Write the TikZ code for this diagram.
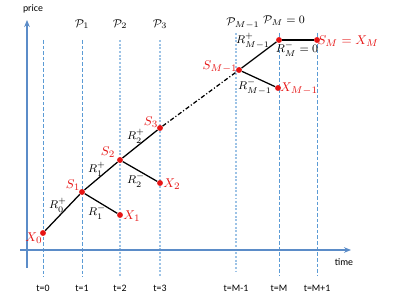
\documentclass[tikz,border=0pt]{standalone}
\usepackage{fontspec}
\setsansfont{Carlito}
\usepackage{tikz}
\usetikzlibrary{arrows.meta,positioning}
\definecolor{axisblue}{RGB}{91,140,200}
\definecolor{gridblue}{RGB}{91,155,213}
\definecolor{gridlight}{RGB}{157,195,230}
\definecolor{ptred}{RGB}{230,20,20}
\begin{document}
\begin{tikzpicture}[x=0.025cm, y=-0.025cm,
    axis/.style={line width=1.1pt, axisblue, -{Stealth[length=5pt,width=4pt]}},
    tline/.style={gridblue, line width=0.5pt, dash pattern=on 2.5pt off 1.5pt},
    tlinethick/.style={gridlight, line width=1.4pt, dash pattern=on 1.4pt off 1.2pt},
    tlab/.style={font=\sffamily\fontsize{7}{8}\selectfont, inner sep=1pt},
    plab/.style={font=\fontsize{8}{9}\selectfont, inner sep=1pt},
    dot/.style={circle, fill=ptred, inner sep=0pt, minimum size=4.2pt},
    path/.style={black, line width=0.9pt},
    rlab/.style={font=\fontsize{8}{9}\selectfont, inner sep=0pt},
    slab/.style={ptred, font=\fontsize{9.5}{10}\selectfont, inner sep=0pt}
]
    \useasboundingbox (0,0) rectangle (400,300);
    % time grid
    \node[tlab] (t0) at (43,288) {t=0};
    \node[tlab] (t1) at (82,288) {t=1};
    \node[tlab] (t2) at (120,288) {t=2};
    \node[tlab] (t3) at (160,288) {t=3};
    \node[tlab] (tm1) at (236,288) {t=M-1};
    \node[tlab] (tm) at (279,288) {t=M};
    \node[tlab] (tp1) at (317,288) {t=M+1};
    \coordinate (t0top) at (43,40);
    \coordinate (t1top) at (82,40);
    \coordinate (t2top) at (120,40);
    \coordinate (t3top) at (160,40);
    \coordinate (tm1top) at (236,33);
    \coordinate (tmtop) at (279,33);
    \coordinate (tp1top) at (317,33);
    \coordinate (t0bot) at (43,277);
    \coordinate (t1bot) at (82,277);
    \coordinate (t2bot) at (120,277);
    \coordinate (t3bot) at (160,277);
    \coordinate (tm1bot) at (236,272);
    \coordinate (tmbot) at (279,275);
    \coordinate (tp1bot) at (317,275);
    \draw[tline] (t0top) -- (t0bot);
    \draw[tline] (t1top) -- (t1bot);
    \draw[tlinethick] (t2top) -- (t2bot);
    \draw[tlinethick] (t3top) -- (t3bot);
    \draw[tlinethick] (tm1top) -- (tm1bot);
    \draw[tline] (tmtop) -- (tmbot);
    \draw[tline] (tp1top) -- (tp1bot);
    % axes
    \coordinate (ybot) at (27,268);
    \coordinate (ytop) at (27,20);
    \coordinate (xleft) at (20,250);
    \coordinate (xright) at (351,250);
    \draw[axis] (ybot) -- (ytop);
    \draw[axis] (xleft) -- (xright);
    \node[tlab] (price) at (33,9) {price};
    \node[tlab] (time) at (344,262) {time};
    % P labels
    \node[plab] (p1) at (82,24) {$\mathcal{P}_1$};
    \node[plab] (p2) at (120,24) {$\mathcal{P}_2$};
    \node[plab] (p3) at (160,24) {$\mathcal{P}_3$};
    \node[plab] (pm1) at (243,23) {$\mathcal{P}_{M-1}$};
    \node[plab] (pm) at (284,21) {$\mathcal{P}_M=0$};
    % price points
    \node[dot] (x0) at (43,233) {};
    \node[dot] (s1) at (82,192) {};
    \node[dot] (x1) at (120,215) {};
    \node[dot] (s2) at (120,160) {};
    \node[dot] (x2) at (160,183) {};
    \node[dot] (s3) at (160,128) {};
    \node[dot] (sm1) at (239,70) {};
    \node[dot] (xm1) at (278,88) {};
    \node[dot] (smtop) at (279,40) {};
    \node[dot] (sm) at (317,40) {};
    \draw[path] (x0) -- (s1);
    \draw[path] (s1) -- (x1);
    \draw[path] (s1) -- (s2);
    \draw[path] (s2) -- (x2);
    \draw[path] (s2) -- (s3);
    \draw[path, dash pattern=on 3pt off 1.5pt on 0.8pt off 1.5pt] (s3) -- (sm1);
    \draw[path] (sm1) -- (xm1);
    \draw[path] (sm1) -- (smtop);
    \draw[path] (smtop) -- (sm);
    % point labels
    \node[slab] (lx0) at (34,238) {$X_0$};
    \node[slab] (ls1) at (73,185) {$S_1$};
    \node[slab] (lx1) at (132,216) {$X_1$};
    \node[slab] (ls2) at (108,152) {$S_2$};
    \node[slab] (lx2) at (172,184) {$X_2$};
    \node[slab] (ls3) at (151,122) {$S_3$};
    \node[slab] (lsm1) at (220,67) {$S_{M-1}$};
    \node[slab] (lxm1) at (299,89) {$X_{M-1}$};
    \node[slab] (lsm) at (348,41) {$S_M=X_M$};
    % return labels
    \node[rlab] (r0p) at (58,205) {$R_0^+$};
    \node[rlab] (r1m) at (97,212) {$R_1^-$};
    \node[rlab] (r1p) at (97,169) {$R_1^+$};
    \node[rlab] (r2m) at (136,180) {$R_2^-$};
    \node[rlab] (r2p) at (136,136) {$R_2^+$};
    \node[rlab] (rm1p) at (253,41) {$R_{M-1}^+$};
    \node[rlab] (rm1m) at (255,87) {$R_{M-1}^-$};
    \node[rlab] (rmm) at (297,49) {$R_M^-=0$};
\end{tikzpicture}
\end{document}
